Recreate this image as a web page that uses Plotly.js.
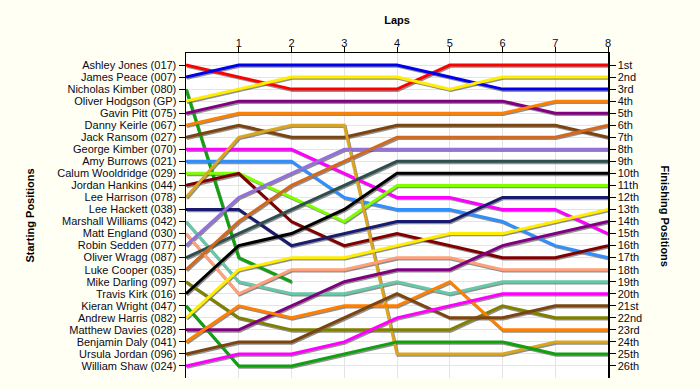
<!DOCTYPE html>
<html>
<head>
<meta charset="utf-8">
<script src="https://cdn.plot.ly/plotly-3.0.1.min.js"></script>
<style>html,body{margin:0;padding:0;background:#fffff4;}#chart{width:700px;height:390px;}</style>
</head>
<body>
<div id="chart"></div>
<script>
// ---- data ----
var laps = [0, 1, 2, 3, 4, 5, 6, 7, 8];
var drivers = [
  "Ashley Jones (017)", "James Peace (007)", "Nicholas Kimber (080)", "Oliver Hodgson (GP)",
  "Gavin Pitt (075)", "Danny Keirle (067)", "Jack Ransom (027)", "George Kimber (070)",
  "Amy Burrows (021)", "Calum Wooldridge (029)", "Jordan Hankins (044)", "Lee Harrison (078)",
  "Lee Hackett (038)", "Marshall Williams (042)", "Matt England (030)", "Robin Sedden (077)",
  "Oliver Wragg (087)", "Luke Cooper (035)", "Mike Darling (097)", "Travis Kirk (016)",
  "Kieran Wright (047)", "Andrew Harris (082)", "Matthew Davies (028)", "Benjamin Daly (041)",
  "Ursula Jordan (096)", "William Shaw (024)"
];
var finishLabels = ["1st","2nd","3rd","4th","5th","6th","7th","8th","9th","10th","11th","12th","13th",
  "14th","15th","16th","17th","18th","19th","20th","21st","22nd","23rd","24th","25th","26th"];
var posAshleyJones      = [1, 2, 3, 3, 3, 1, 1, 1, 1];
var posJamesPeace       = [2, 1, 1, 1, 1, 2, 3, 3, 3];
var posNicholasKimber   = [3, 17, 19, null, null, null, null, null, null];
var posOliverHodgson    = [4, 3, 2, 2, 2, 3, 2, 2, 2];
var posGavinPitt        = [5, 4, 4, 4, 4, 4, 4, 5, 5];
var posDannyKeirle      = [6, 5, 5, 5, 5, 5, 5, 4, 4];
var posJackRansom       = [7, 6, 7, 7, 6, 6, 6, 6, 7];
var posGeorgeKimber     = [8, 8, 8, 10, 12, 12, 13, 13, 15];
var posAmyBurrows       = [9, 9, 9, 12, 13, 13, 14, 16, 17];
var posCalumWooldridge  = [10, 10, 12, 14, 11, 11, 11, 11, 11];
var posJordanHankins    = [11, 10, 14, 16, 15, 16, 17, 17, 16];
var posLeeHarrison      = [12, 7, 6, 6, 25, 25, 25, 24, 24];
var posLeeHackett       = [13, 13, 16, 15, 14, 14, 12, 12, 12];
var posMarshallWilliams = [14, 19, 20, 20, 19, 20, 19, 19, 19];
var posMattEngland      = [15, 20, 18, 18, 17, 17, 18, 18, 18];
var posRobinSedden      = [16, 12, 10, 8, 8, 8, 8, 8, 8];
var posOliverWragg      = [17, 15, 13, 11, 9, 9, 9, 9, 9];
var posLukeCooper       = [18, 14, 11, 9, 7, 7, 7, 7, 6];
var posMikeDarling      = [19, 22, 23, 23, 23, 23, 21, 22, 22];
var posTravisKirk       = [20, 16, 15, 13, 10, 10, 10, 10, 10];
var posKieranWright     = [21, 26, 26, 25, 24, 24, 24, 25, 25];
var posAndrewHarris     = [22, 18, 17, 17, 16, 15, 15, 14, 13];
var posMatthewDavies    = [23, 23, 21, 19, 18, 18, 16, 15, 14];
var posBenjaminDaly     = [24, 21, 22, 21, 21, 19, 23, 23, 23];
var posUrsulaJordan     = [25, 24, 24, 22, 20, 22, 22, 21, 21];
var posWilliamShaw      = [26, 25, 25, 24, 22, 21, 20, 20, 20];

var series = [posAshleyJones, posJamesPeace, posNicholasKimber, posOliverHodgson, posGavinPitt,
  posDannyKeirle, posJackRansom, posGeorgeKimber, posAmyBurrows, posCalumWooldridge,
  posJordanHankins, posLeeHarrison, posLeeHackett, posMarshallWilliams, posMattEngland,
  posRobinSedden, posOliverWragg, posLukeCooper, posMikeDarling, posTravisKirk,
  posKieranWright, posAndrewHarris, posMatthewDavies, posBenjaminDaly, posUrsulaJordan, posWilliamShaw];

var colors = ["#ff0000","#0000ee","#10a010","#ffee00","#800080","#ff8000","#7a4510","#ff00ff",
  "#2e8fff","#80ff00","#800000","#daa520","#1a1a6e","#66c8a8","#ffa07a","#9370db",
  "#2f4f4f","#d2691e","#808000","#000000",
  "#10a010","#ffee00","#800080","#ff8000","#7a4510","#ff00ff"];

// ---- chart ----
var W = 422, H = 325;          // plot area size in px
var yMax = 27, xMax = 8;
var dx = 1 * xMax / W, dy = 1.3 * yMax / H;  // shadow offset in data units

var traces = [];
// invisible traces to anchor the visible axes
traces.push({x: [0], y: [1], xaxis: 'x', yaxis: 'y', mode: 'markers', marker: {opacity: 0}, hoverinfo: 'skip', showlegend: false});
traces.push({x: [0], y: [1], xaxis: 'x', yaxis: 'y2', mode: 'markers', marker: {opacity: 0}, hoverinfo: 'skip', showlegend: false});
// shadows (layer x3/y3, shifted right/down)
series.forEach(function (s, i) {
  traces.push({x: laps, y: s, type: 'scatter', mode: 'lines', xaxis: 'x3', yaxis: 'y3',
    line: {color: 'rgba(70,70,70,0.6)', width: 3}, hoverinfo: 'skip', showlegend: false});
});
// main lines (layer x4/y4, on top)
series.forEach(function (s, i) {
  traces.push({x: laps, y: s, type: 'scatter', mode: 'lines', name: drivers[i], xaxis: 'x4', yaxis: 'y4',
    line: {color: colors[i], width: 3}, showlegend: false});
});

var posVals = [];
for (var p = 1; p <= 26; p++) posVals.push(p);

var tickFont = {family: 'Liberation Sans, Arial, sans-serif', size: 11, color: '#0a0a20'};
var titleFont = {family: 'Liberation Sans, Arial, sans-serif', size: 11, color: '#000', weight: 'bold'};

var layout = {
  width: 700, height: 390,
  margin: {l: 186, r: 92, t: 53, b: 12, pad: 0},
  paper_bgcolor: '#fffff4',
  plot_bgcolor: '#ffffff',
  showlegend: false,
  xaxis: {
    side: 'top', range: [0, xMax], tickvals: [1, 2, 3, 4, 5, 6, 7, 8],
    ticks: 'outside', ticklen: 5, tickcolor: '#000', tickfont: tickFont, ticklabelstandoff: -5,
    showline: true, linecolor: '#000', linewidth: 1.5,
    showgrid: true, gridcolor: '#e4e4e4', gridwidth: 1, zeroline: false,
    title: {text: 'Laps', font: titleFont, standoff: 10}
  },
  yaxis: {
    range: [yMax, 0], tickvals: posVals, ticktext: drivers,
    ticks: 'outside', ticklen: 6, tickcolor: '#000', tickfont: tickFont,
    showline: true, linecolor: '#000', linewidth: 1.5,
    showgrid: true, gridcolor: '#e4e4e4', gridwidth: 1, zeroline: false,
    title: {text: 'Starting Positions', font: titleFont, standoff: 20}
  },
  yaxis2: {
    overlaying: 'y', side: 'right', range: [yMax, 0], tickvals: posVals, ticktext: finishLabels,
    ticks: 'outside', ticklen: 6, tickcolor: '#000', tickfont: tickFont,
    showline: true, linecolor: '#000', linewidth: 1.5, showgrid: false, zeroline: false
  },
  xaxis3: {overlaying: 'x', range: [-dx, xMax - dx], visible: false},
  yaxis3: {overlaying: 'y', anchor: 'x3', range: [yMax - dy, -dy], visible: false},
  xaxis4: {overlaying: 'x', range: [0, xMax], visible: false},
  yaxis4: {overlaying: 'y', anchor: 'x4', range: [yMax, 0], visible: false},
  annotations: [{
    text: 'Finishing Positions', textangle: 90, showarrow: false,
    xref: 'paper', yref: 'paper', x: 1, xshift: 57, y: 0.5, xanchor: 'center', yanchor: 'middle',
    font: titleFont
  }]
};

Plotly.newPlot('chart', traces, layout, {displayModeBar: false, staticPlot: true});
</script>
</body>
</html>
